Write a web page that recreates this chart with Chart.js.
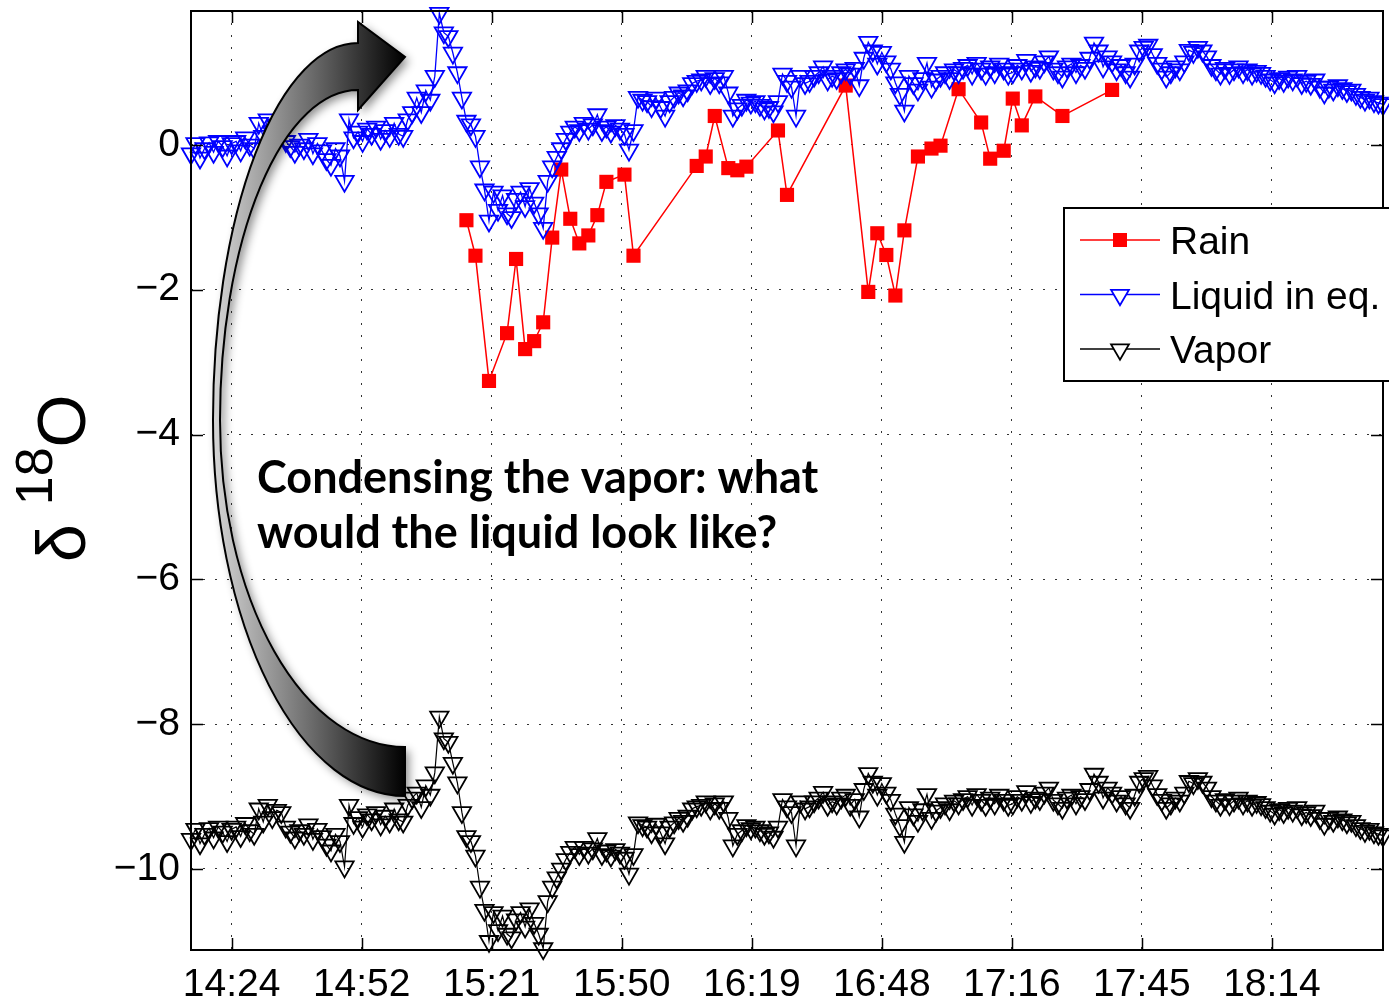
<!DOCTYPE html>
<html>
<head>
<meta charset="utf-8">
<title>delta 18O</title>
<script src="https://cdn.jsdelivr.net/npm/chart.js@4.4.1/dist/chart.umd.min.js"></script>
<style>
  html, body { margin: 0; padding: 0; background: #fff; }
  #wrap { width: 1389px; height: 1000px; }
</style>
</head>
<body>
<div id="wrap"><canvas id="isoChart" width="1389" height="1000"></canvas></div>
<script>
// time is in minutes after midnight, one sample per minute from 14:15
const sampleStart = 855;

// liquid in equilibrium with the vapor
const liquid = [
  -0.12, 0.02, -0.18, -0.05, 0.03, -0.1, 0.05, -0.02, -0.15, 0.02,
  0.05, -0.08, 0.1, 0.0, -0.05, 0.3, 0.12, 0.35, 0.18, 0.28,
  0.25, 0.05, -0.02, -0.1, 0.0, -0.05, 0.08, -0.12, 0.02, -0.08,
  -0.2, -0.28, -0.05, -0.15, -0.5, 0.35, 0.1, 0.18, 0.05, 0.22,
  0.15, 0.25, 0.08, 0.2, 0.12, 0.3, 0.15, 0.12, 0.35, 0.45,
  0.65, 0.45, 0.75, 0.62, 0.95, 1.82, 1.55, 1.5, 1.27, 1.0,
  0.65, 0.33, 0.28, 0.12, -0.3, -0.62, -1.05, -0.65, -0.9, -0.7,
  -0.95, -1.0, -0.75, -0.65, -0.85, -0.6, -0.8, -0.95, -1.15, -0.5,
  -0.3, -0.17, -0.05, 0.08, 0.18, 0.25, 0.2, 0.3, 0.22, 0.28,
  0.42, 0.2, 0.25, 0.18, 0.27, 0.22, 0.15, -0.07, 0.2, 0.66,
  0.62, 0.6, 0.53, 0.65, 0.52, 0.4, 0.6, 0.66, 0.72, 0.68,
  0.75, 0.85, 0.88, 0.9, 0.95, 0.85, 0.92, 0.86, 0.95, 0.72,
  0.4, 0.5, 0.55, 0.62, 0.58, 0.6, 0.55, 0.5, 0.52, 0.46,
  0.6, 0.98, 0.88, 0.8, 0.4, 0.95, 0.85, 0.88, 0.95, 1.0,
  1.08, 0.9, 0.95, 0.92, 1.0, 1.04, 0.98, 1.06, 0.82, 1.2,
  1.42, 1.3, 1.12, 1.28, 1.15, 1.05, 0.86, 0.7, 0.47, 0.95,
  0.85, 0.76, 0.92, 1.13, 0.8, 0.9, 0.95, 1.0, 0.92, 1.04,
  1.0, 1.06, 1.1, 0.98, 1.13, 1.05, 0.98, 1.08, 1.0, 1.12,
  1.05, 0.98, 1.0, 1.1, 1.05, 1.17, 1.02, 1.08, 1.06, 1.15,
  1.22, 1.05, 1.0, 0.94, 1.08, 1.12, 1.0, 1.1, 1.06, 1.2,
  1.41, 1.3, 1.08, 1.22, 1.15, 1.04, 1.1, 1.0, 0.94, 1.12,
  1.3, 1.35, 1.38, 1.25, 1.13, 1.05, 0.94, 1.0, 1.08, 1.04,
  1.15, 1.31, 1.28, 1.35, 1.3, 1.22, 1.1, 1.04, 0.98, 1.06,
  0.99, 1.04, 1.08, 1.0, 1.04, 0.98, 1.02, 0.99, 0.95, 0.9,
  0.86, 0.92, 0.88, 0.94, 0.9, 0.95, 0.85, 0.88, 0.84, 0.9,
  0.8, 0.72, 0.8, 0.76, 0.82, 0.78, 0.74, 0.76, 0.7, 0.66,
  0.62, 0.65, 0.6, 0.58, 0.56
];

// measured vapor
const vapor = [
  -9.59, -9.45, -9.65, -9.52, -9.44, -9.57, -9.42, -9.49, -9.62, -9.45,
  -9.42, -9.55, -9.37, -9.47, -9.52, -9.17, -9.35, -9.12, -9.29, -9.19,
  -9.22, -9.42, -9.49, -9.57, -9.47, -9.52, -9.39, -9.59, -9.45, -9.55,
  -9.67, -9.75, -9.52, -9.62, -9.97, -9.12, -9.37, -9.29, -9.42, -9.25,
  -9.32, -9.22, -9.39, -9.27, -9.35, -9.17, -9.32, -9.35, -9.12, -9.02,
  -8.95, -9.15, -8.85, -8.98, -8.67, -7.9, -8.2, -8.25, -8.54, -8.81,
  -9.22, -9.55, -9.62, -9.82, -10.25, -10.57, -11.0, -10.6, -10.85, -10.65,
  -10.9, -10.95, -10.7, -10.6, -10.8, -10.55, -10.75, -10.9, -11.1, -10.45,
  -10.25, -10.12, -10.0, -9.87, -9.77, -9.7, -9.8, -9.7, -9.78, -9.72,
  -9.58, -9.8, -9.75, -9.82, -9.73, -9.78, -9.85, -10.07, -9.8, -9.36,
  -9.4, -9.42, -9.5, -9.38, -9.5, -9.65, -9.42, -9.36, -9.3, -9.34,
  -9.27, -9.17, -9.14, -9.12, -9.07, -9.17, -9.1, -9.16, -9.07, -9.3,
  -9.68, -9.52, -9.47, -9.4, -9.44, -9.42, -9.47, -9.52, -9.5, -9.56,
  -9.42, -9.04, -9.14, -9.22, -9.68, -9.07, -9.17, -9.14, -9.07, -9.02,
  -8.94, -9.12, -9.07, -9.1, -9.02, -8.98, -9.12, -9.04, -9.28, -8.9,
  -8.68, -8.8, -8.98, -8.82, -8.95, -9.05, -9.24, -9.4, -9.63, -9.15,
  -9.25, -9.34, -9.18, -8.97, -9.3, -9.2, -9.15, -9.1, -9.18, -9.06,
  -9.1, -9.04, -9.0, -9.12, -8.97, -9.05, -9.12, -9.02, -9.1, -8.98,
  -9.05, -9.12, -9.1, -9.0, -9.05, -8.93, -9.08, -9.02, -9.04, -8.95,
  -8.88, -9.05, -9.1, -9.16, -9.02, -8.98, -9.1, -9.0, -9.04, -8.9,
  -8.69, -8.8, -9.02, -8.88, -8.95, -9.06, -9.0, -9.1, -9.16, -8.98,
  -8.8, -8.75, -8.72, -8.85, -8.97, -9.05, -9.16, -9.1, -9.02, -9.06,
  -8.95, -8.79, -8.82, -8.75, -8.8, -8.88, -9.0, -9.06, -9.12, -9.04,
  -9.11, -9.06, -9.02, -9.1, -9.06, -9.12, -9.08, -9.11, -9.15, -9.2,
  -9.24, -9.18, -9.22, -9.16, -9.2, -9.15, -9.25, -9.22, -9.26, -9.2,
  -9.3, -9.38, -9.3, -9.34, -9.28, -9.32, -9.36, -9.34, -9.4, -9.44,
  -9.48, -9.45, -9.5, -9.52, -9.54
];

// rain samples (minutes after midnight, permil)
const rainTimes = [
  916, 918, 921, 925, 927, 929, 931, 933, 935, 937, 939, 941, 943, 945, 947,
  951, 953, 967, 969, 971, 974, 976, 978, 985, 987, 1000, 1005, 1007, 1009,
  1011, 1013, 1016, 1019, 1021, 1025, 1030, 1032, 1035, 1037, 1039, 1042,
  1048, 1059
];
const rainValues = [
  -1.04, -1.53, -3.26, -2.60, -1.575, -2.82, -2.71, -2.45, -1.28, -0.34,
  -1.02, -1.36, -1.25, -0.97, -0.51, -0.41, -1.53, -0.29, -0.16, 0.40,
  -0.32, -0.35, -0.30, 0.20, -0.69, 0.82, -2.03, -1.22, -1.52, -2.08,
  -1.18, -0.16, -0.05, -0.01, 0.77, 0.31, -0.19, -0.08, 0.64, 0.27,
  0.67, 0.40, 0.76
];

const xTickValues = [864, 892.8, 921.6, 950.4, 979.2, 1008, 1036.8, 1065.6, 1094.4];
const xTickLabels = ['14:24', '14:52', '15:21', '15:50', '16:19', '16:48', '17:16', '17:45', '18:14'];
const yTickValues = [-10, -8, -6, -4, -2, 0];
const yTickLabels = ['\u221210', '\u22128', '\u22126', '\u22124', '\u22122', '0'];

const legendItems = [
  { label: 'Rain', color: '#ff0000', marker: 'square' },
  { label: 'Liquid in eq.', color: '#0000ff', marker: 'triangle' },
  { label: 'Vapor', color: '#000000', marker: 'triangle' }
];

const FONT = '"Liberation Sans", Arial, Helvetica, sans-serif';

const series = (vals) => vals.map((v, i) => ({ x: sampleStart + i, y: v }));

function downTriangle(ctx, cx, cy, r) {
  const h = r * Math.sqrt(3) / 2;
  ctx.beginPath();
  ctx.moveTo(cx - h, cy - r / 2);
  ctx.lineTo(cx + h, cy - r / 2);
  ctx.lineTo(cx, cy + r);
  ctx.closePath();
}

// MATLAB style box with inward ticks on all four sides
const axesBox = {
  id: 'axesBox',
  afterDatasetsDraw(chart) {
    const { ctx, chartArea: a, scales: { x, y } } = chart;
    ctx.save();
    ctx.strokeStyle = '#000';
    ctx.lineWidth = 1.5;
    ctx.beginPath();
    x.ticks.forEach(t => {
      const px = Math.round(x.getPixelForValue(t.value)) + 0.5;
      ctx.moveTo(px, a.bottom); ctx.lineTo(px, a.bottom - 12);
      ctx.moveTo(px, a.top); ctx.lineTo(px, a.top + 12);
    });
    y.ticks.forEach(t => {
      const py = Math.round(y.getPixelForValue(t.value)) + 0.5;
      ctx.moveTo(a.left, py); ctx.lineTo(a.left + 12, py);
      ctx.moveTo(a.right, py); ctx.lineTo(a.right - 12, py);
    });
    ctx.stroke();
    ctx.lineWidth = 2;
    ctx.strokeRect(a.left, a.top, a.right - a.left, a.bottom - a.top);
    ctx.restore();
  }
};

// curved arrow, annotation text, legend and the y title
const overlay = {
  id: 'overlay',
  afterDraw(chart) {
    const ctx = chart.ctx;

    // curved arrow from the vapor up to the liquid
    ctx.save();
    ctx.beginPath();
    ctx.moveTo(405, 747);
    ctx.ellipse(405, 420, 185, 327, 0, Math.PI / 2, Math.PI, false);
    ctx.ellipse(358, 420, 138, 330, 0, Math.PI, Math.PI * 1.5, false);
    ctx.lineTo(358, 110);
    ctx.lineTo(405, 57);
    ctx.lineTo(358, 22);
    ctx.lineTo(358, 43);
    ctx.ellipse(358, 420, 145, 377, 0, Math.PI * 1.5, Math.PI, true);
    ctx.ellipse(405, 420, 192, 376, 0, Math.PI, Math.PI / 2, true);
    ctx.closePath();
    const grad = ctx.createLinearGradient(213, 0, 405, 0);
    grad.addColorStop(0, '#d6d6d6');
    grad.addColorStop(0.5, '#6e6e6e');
    grad.addColorStop(1, '#000000');
    ctx.shadowColor = 'rgba(0,0,0,0.45)';
    ctx.shadowBlur = 10;
    ctx.shadowOffsetX = 4;
    ctx.shadowOffsetY = 4;
    ctx.fillStyle = grad;
    ctx.fill();
    ctx.shadowColor = 'transparent';
    ctx.lineWidth = 2;
    ctx.strokeStyle = '#000';
    ctx.stroke();
    ctx.restore();

    // annotation
    ctx.save();
    ctx.fillStyle = '#000';
    ctx.font = 'bold 45px Lato, "Open Sans", sans-serif';
    ctx.textBaseline = 'alphabetic';
    ctx.fillText('Condensing the vapor: what', 257, 493);
    ctx.fillText('would the liquid look like?', 257, 548);
    ctx.restore();

    // legend
    ctx.save();
    ctx.fillStyle = '#fff';
    ctx.fillRect(1064, 208, 340, 173);
    ctx.strokeStyle = '#000';
    ctx.lineWidth = 2;
    ctx.strokeRect(1064, 208, 340, 173);
    ctx.font = '39px ' + FONT;
    ctx.textBaseline = 'alphabetic';
    legendItems.forEach((it, i) => {
      const yy = 240 + i * 54.5;
      ctx.strokeStyle = it.color;
      ctx.lineWidth = 1.3;
      ctx.beginPath();
      ctx.moveTo(1080, yy); ctx.lineTo(1160, yy);
      ctx.stroke();
      if (it.marker === 'square') {
        ctx.fillStyle = it.color;
        ctx.fillRect(1113, yy - 7, 14, 14);
      } else {
        ctx.fillStyle = '#fff';
        downTriangle(ctx, 1120, yy + 0.5, 10.3);
        ctx.fill();
        ctx.lineWidth = 1.8;
        ctx.stroke();
      }
      ctx.fillStyle = '#000';
      ctx.fillText(it.label, 1170, yy + 14);
    });
    ctx.restore();

    // y axis title: delta 18O
    ctx.save();
    ctx.translate(85, 562);
    ctx.rotate(-Math.PI / 2);
    ctx.fillStyle = '#000';
    ctx.textBaseline = 'alphabetic';
    ctx.font = '68px ' + FONT;
    ctx.fillText('\u03b4 ', 0, 0);
    let off = ctx.measureText('\u03b4 ').width;
    ctx.font = '52px ' + FONT;
    ctx.fillText('18', off, -33);
    off += ctx.measureText('18').width;
    ctx.font = '68px ' + FONT;
    ctx.fillText('O', off, 0);
    ctx.restore();
  }
};

const ctx = document.getElementById('isoChart').getContext('2d');

const chart = new Chart(ctx, {
  type: 'line',
  data: {
    datasets: [
      {
        label: 'Vapor',
        data: series(vapor),
        borderColor: '#000',
        borderWidth: 1.2,
        pointStyle: 'triangle',
        pointRotation: 180,
        pointRadius: 10.6,
        pointBorderWidth: 1.8,
        pointBorderColor: '#000',
        pointBackgroundColor: 'rgba(0,0,0,0)',
        clip: false
      },
      {
        label: 'Liquid in eq.',
        data: series(liquid),
        borderColor: '#0000ff',
        borderWidth: 1.3,
        pointStyle: 'triangle',
        pointRotation: 180,
        pointRadius: 10.6,
        pointBorderWidth: 1.8,
        pointBorderColor: '#0000ff',
        pointBackgroundColor: 'rgba(0,0,0,0)',
        clip: false
      },
      {
        label: 'Rain',
        data: rainTimes.map((t, i) => ({ x: t, y: rainValues[i] })),
        borderColor: '#ff0000',
        borderWidth: 1.5,
        pointStyle: 'rect',
        pointRadius: 10,
        pointBorderWidth: 0,
        pointBackgroundColor: '#ff0000',
        clip: false
      }
    ]
  },
  options: {
    responsive: false,
    animation: false,
    devicePixelRatio: 1,
    layout: { autoPadding: false, padding: { top: 11, right: 6, left: 0, bottom: 0 } },
    plugins: { legend: { display: false }, tooltip: { enabled: false } },
    elements: { line: { tension: 0 } },
    scales: {
      x: {
        type: 'linear',
        min: 855,
        max: 1119,
        afterBuildTicks: s => { s.ticks = xTickValues.map(v => ({ value: v })); },
        afterFit: s => { s.height = 50; s.paddingLeft = 0; s.paddingRight = 0; },
        grid: { color: 'rgba(0,0,0,0.8)', lineWidth: 1, drawTicks: false },
        border: { display: false, dash: [2, 10] },
        ticks: {
          autoSkip: false, maxRotation: 0, padding: 12, color: '#000',
          font: { family: FONT, size: 39 },
          callback: (v, i) => xTickLabels[i]
        }
      },
      y: {
        type: 'linear',
        min: -11.12,
        max: 1.85,
        afterBuildTicks: s => { s.ticks = yTickValues.map(v => ({ value: v })); },
        afterFit: s => { s.width = 191; s.paddingTop = 0; s.paddingBottom = 0; },
        grid: { color: 'rgba(0,0,0,0.8)', lineWidth: 1, drawTicks: false },
        border: { display: false, dash: [2, 10] },
        ticks: {
          padding: 11, color: '#000',
          font: { family: FONT, size: 39 },
          callback: (v, i) => yTickLabels[i]
        }
      }
    }
  },
  plugins: [axesBox, overlay]
});
</script>
</body>
</html>
